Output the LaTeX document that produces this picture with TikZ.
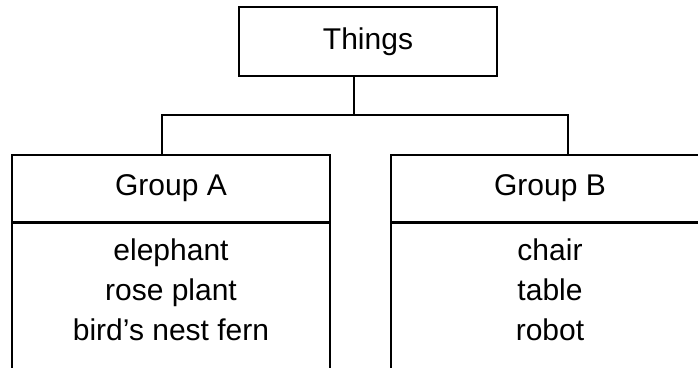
\documentclass[tikz,border=0pt]{standalone}
\usepackage{fontspec}
\setmainfont{Liberation Sans}
\usetikzlibrary{positioning}
\begin{document}
\begin{tikzpicture}[x=1pt,y=-1pt,box/.style={draw, line width=1.6pt, inner sep=0pt, font=\fontsize{30}{40}\selectfont},head node/.style={box, minimum width=318pt, minimum height=67pt},body node/.style={box, minimum width=318pt, minimum height=170pt, anchor=north},item list/.style={font=\fontsize{30}{40}\selectfont, align=center, inner sep=0pt, anchor=base},link/.style={line width=1.6pt}]%
\path[use as bounding box] (0,0) rectangle (698,367);%
\clip (0,0) rectangle (698,367);%
  % Top%
\node[box, minimum width=258pt, minimum height=69pt] (things) at (368,41.5) {Things};%
  % Group A%
\node[head node] (groupA) at (171,188.5) {Group A};%
\node[body node] (bodyA) at (groupA.south) {};%
\node[item list] (itemsA) at (171,340) {elephant\\ rose plant\\ bird's nest fern};%
  % Group B%
\node[head node] (groupB) at (550,188.5) {Group B};%
\node[body node] (bodyB) at (groupB.south) {};%
\node[item list] (itemsB) at (550,340) {chair\\ table\\ robot};%
  % Links%
\coordinate (fork) at (354,115);%
\draw[link] ([xshift=-14pt]things.south) -- (fork);%
\draw[link] (fork) -| ([xshift=-9pt]groupA.north);%
\draw[link] (fork) -| ([xshift=18pt]groupB.north);%
\end{tikzpicture}
\end{document}
